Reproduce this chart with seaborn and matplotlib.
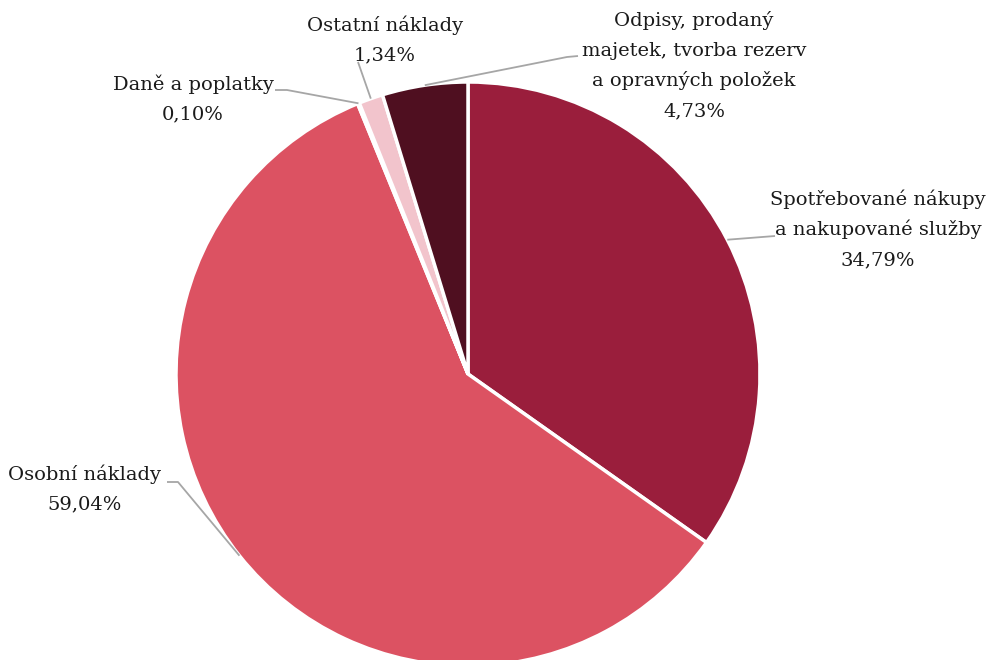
import matplotlib
matplotlib.use("Agg")
import matplotlib.pyplot as plt
import numpy as np
import seaborn as sns

# Cost structure (share of total costs, %)
categories = [
    "Spotřebované nákupy\na nakupované služby",
    "Osobní náklady",
    "Daně a poplatky",
    "Ostatní náklady",
    "Odpisy, prodaný\nmajetek, tvorba rezerv\na opravných položek",
]
shares = [34.79, 59.04, 0.10, 1.34, 4.73]
share_labels = ["34,79%", "59,04%", "0,10%", "1,34%", "4,73%"]
colors = ["#9a1e3c", "#dc5262", "#f2c4cc", "#f2c4cc", "#4f0f20"]

sns.set_theme(style="white")
plt.rcParams["font.family"] = ["DejaVu Serif", "DejaVu Sans"]

W, H = 987, 660
fig = plt.figure(figsize=(W / 100, H / 100), dpi=100)
ax = fig.add_axes([0, 0, 1, 1])
ax.set_xlim(0, W)
ax.set_ylim(0, H)
ax.set_aspect("equal")
ax.axis("off")

cx, cy, r = 468, H - 374, 292

wedges, _ = ax.pie(
    shares,
    colors=colors,
    startangle=90,
    counterclock=False,
    center=(cx, cy),
    radius=r,
    wedgeprops=dict(edgecolor="white", linewidth=2.5),
    frame=True,
)
ax.set_xlim(0, W)
ax.set_ylim(0, H)
ax.axis("off")

# label text centre, elbow point, text anchor side (in image-style y, top = 0)
label_layout = [
    dict(text=(878, 230), elbow=[(775, 236)], first_line_y=199),
    dict(text=(85, 490), elbow=[(178, 482), (167, 482)], first_line_y=474),
    dict(text=(193, 98), elbow=[(287, 90), (275, 90)], first_line_y=84),
    dict(text=(385, 41), elbow=[(358, 62)], first_line_y=25),
    dict(text=(694, 63), elbow=[(567, 57), (578, 56)], first_line_y=20),
]

line_gap = 30.5
for w, cat, lab, lay in zip(wedges, categories, share_labels, label_layout):
    mid = np.deg2rad((w.theta1 + w.theta2) / 2)
    x0 = cx + r * np.cos(mid)
    y0 = cy + r * np.sin(mid)
    xs = [x0] + [p[0] for p in lay["elbow"]]
    ys = [y0] + [H - p[1] for p in lay["elbow"]]
    ax.plot(xs, ys, color="#a6a6a6", lw=1.3, solid_capstyle="butt", zorder=1)
    lines = cat.split("\n") + [lab]
    for i, t in enumerate(lines):
        ax.text(lay["text"][0], H - (lay["first_line_y"] + i * line_gap), t,
                ha="center", va="center", fontsize=14, color="#1a1a1a")

fig.savefig("out.png", dpi=100)
